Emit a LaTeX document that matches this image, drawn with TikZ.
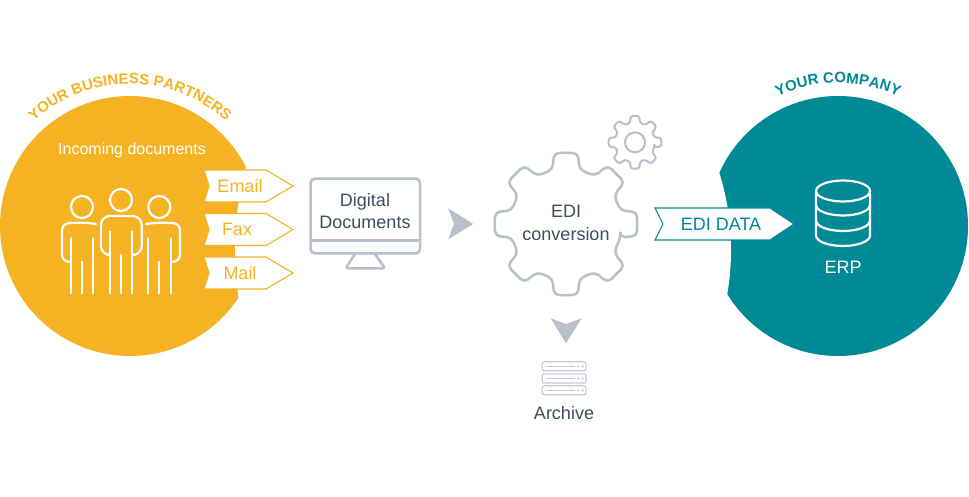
\documentclass[tikz,border=0pt]{standalone}
\usepackage{fontspec}
\setmainfont{Liberation Sans}
\usepackage{xcolor}
\usetikzlibrary{decorations.text}
\definecolor{partnercolor}{HTML}{F5B324}
\definecolor{companycolor}{HTML}{008996}
\definecolor{iconcolor}{HTML}{B8C0CA}
\definecolor{labelcolor}{HTML}{3C4D5F}
\newcommand{\labelfont}{\fontsize{18}{22.5}\selectfont}
\newcommand{\gearshape}[3]{% centre, outer radius, inner radius
  ([shift={(#1)}]-14:#3)
  \foreach \a in {0,45,...,315} {
    -- ([shift={(#1)}]\a-14:#3) -- ([shift={(#1)}]\a-9.5:#2)
    -- ([shift={(#1)}]\a+9.5:#2) -- ([shift={(#1)}]\a+14:#3)
  } -- cycle}
\begin{document}
\begin{tikzpicture}[
    x=1pt, y=1pt,
    iconline/.style={draw=iconcolor, line width=2.5pt, line join=round},
    whiteline/.style={draw=white, line width=2.2pt, line cap=round, line join=round},
    chevron/.style={fill=iconcolor},
    tagbox/.style={fill=white, line width=1.1pt},
    label/.style={font=\labelfont, text=labelcolor, align=center, inner sep=0pt},
    taglabel/.style={font=\labelfont, inner sep=0pt},
    cliplabel/.style={font=\labelfont, text=white, inner sep=0pt}
]
\useasboundingbox (0,0) rectangle (969,496);

% Circles with their cut edges
\fill[partnercolor] (130,270) circle[radius=130pt];
\begin{scope}
\clip (180,0) rectangle (400,496);
\fill[white] (553.6,246) circle[radius=318.6pt];
\end{scope}
\fill[companycolor] (838,270) circle[radius=130pt];
\begin{scope}
\clip (600,0) rectangle (969,496);
\fill[white] (471.5,246) circle[radius=259.5pt];
\end{scope}

% Curved titles
\path[decorate, decoration={text along path, text align=center,
    text={|\fontsize{15}{15}\selectfont\bfseries\color{partnercolor}|YOUR BUSINESS PARTNERS}}]
  (130,270) ++(135:142) arc[start angle=135, end angle=45, radius=142pt];
\path[decorate, decoration={text along path, text align=center,
    text={|\fontsize{15}{15}\selectfont\bfseries\color{companycolor}|YOUR COMPANY}}]
  (838,270) ++(118:143) arc[start angle=118, end angle=62, radius=143pt];

\node[font=\fontsize{16}{20}\selectfont, text=white, inner sep=0pt] (incoming) at (132,346) {Incoming documents};

% People
\draw[whiteline] (82,289) circle[radius=11pt];
\draw[whiteline] (121,296) circle[radius=11pt];
\draw[whiteline] (159.3,289) circle[radius=11pt];
\draw[whiteline, rounded corners=9pt] (108.3,241) -- (101,241) -- (101,280) -- (141.7,280) -- (141.7,241) -- (133.3,241);
\draw[whiteline] (110,264.3) -- (110,202.7) (132,264.3) -- (132,202.7) (121,241) -- (121,202.7);
\draw[whiteline, rounded corners=7pt] (96,272) -- (84,273.5) -- (62,272.7) -- (62,234.3) -- (70,234.3);
\draw[whiteline] (71,257.7) -- (71,202.7) (93,257.7) -- (93,202.7) (82,234.3) -- (82,202.7);
\draw[whiteline, rounded corners=7pt] (146,272) -- (158,273.5) -- (180,272.7) -- (180,234.3) -- (171.7,234.3);
\draw[whiteline] (148.3,257.7) -- (148.3,202.7) (170.7,257.7) -- (170.7,202.7) (159.3,234.3) -- (159.3,202.7);

% Incoming tags
\foreach \name/\ymid/\xtxt in {Email/310/240, Fax/266.5/237, Mail/223/240} {
  \draw[tagbox, draw=partnercolor] (204,\ymid+16) -- (266,\ymid+16) -- (293,\ymid) -- (266,\ymid-16) -- (204,\ymid-16) -- (209,\ymid) -- cycle;
  \node[taglabel, text=partnercolor] (tag\name) at (\xtxt,\ymid) {\name};
}

% Monitor
\draw[iconline, rounded corners=4pt] (310.7,317.3) rectangle (420,242.7);
\draw[iconline] (310.7,255.3) -- (420,255.3);
\draw[iconline, rounded corners=1.5pt] (355,242) -- (345.7,227.7) -- (385,227.7) -- (375,242);
\node[label] (digital) at (365,285) {Digital\\Documents};

\fill[chevron] (448.3,287.7) -- (473.3,272) -- (448.3,256.7) -- (454,272) -- cycle;

% Gears
\draw[iconline, rounded corners=5pt] \gearshape{566,272}{72}{56};
\node[label] (edi) at (566,273) {EDI\\conversion};
\draw[iconline, line width=2pt, rounded corners=2.5pt] \gearshape{635,353.7}{26.7}{20};
\draw[iconline, line width=2pt] (635,353.7) circle[radius=10pt];

\fill[chevron] (550.7,177.7) -- (566,152.7) -- (581.7,177.7) -- (566,172) -- cycle;

% Archive
\foreach \ytop in {134.3,122,110.3} {
  \draw[draw=iconcolor!80!white, line width=1.3pt, rounded corners=1.5pt] (542.3,\ytop) rectangle (586,\ytop-9);
  \draw[draw=iconcolor!80!white, line width=1pt] (546,\ytop-4.5) -- (575,\ytop-4.5);
  \fill[iconcolor] (578.3,\ytop-4.5) circle[radius=1.1pt] (582.7,\ytop-4.5) circle[radius=1.1pt];
}
\node[label] (archive) at (564,83) {Archive};

% EDI data tag
\draw[tagbox, draw=companycolor] (655,288) -- (770,288) -- (794,272) -- (770,256) -- (655,256) -- (663,272) -- cycle;
\node[taglabel, text=companycolor] (edidata) at (721,272) {EDI DATA};

% Database
\draw[whiteline] (843,305) ellipse[x radius=27pt, y radius=10.5pt];
\draw[whiteline] (816,305) -- (816,260.5) arc[start angle=180, end angle=360, x radius=27pt, y radius=10.5pt] -- (870,305);
\draw[whiteline] (816,291) arc[start angle=180, end angle=360, x radius=27pt, y radius=10.5pt];
\draw[whiteline] (816,275.5) arc[start angle=180, end angle=360, x radius=27pt, y radius=10.5pt];
\node[cliplabel] (erp) at (843,229) {ERP};
\end{tikzpicture}
\end{document}
